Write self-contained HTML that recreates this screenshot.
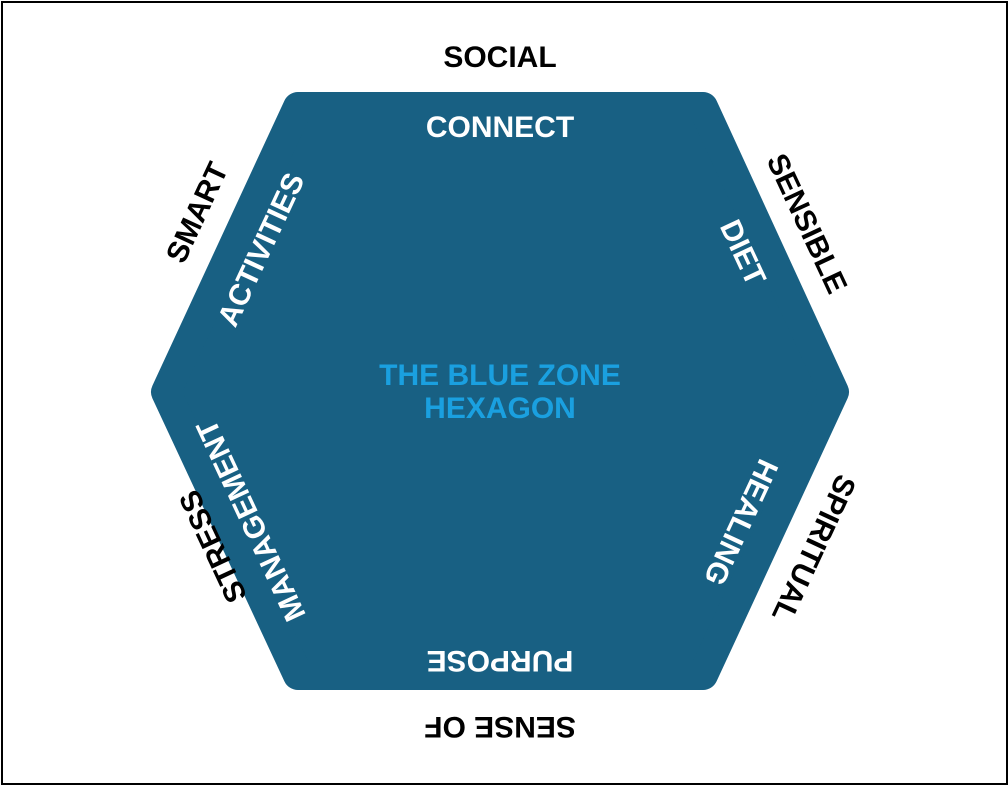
<!DOCTYPE html>
<html><head><style>
html,body{margin:0;padding:0;background:#fff;}
body{width:1008px;height:785px;position:relative;overflow:hidden;font-family:"Liberation Sans",Arial,sans-serif;}
.frame{position:absolute;left:1px;top:1px;width:1003px;height:780px;border:2px solid #000;}
.t{position:absolute;font-weight:bold;font-size:30px;letter-spacing:0;white-space:nowrap;transform-origin:center center;line-height:1;}
.w{color:#fff;}
.k{color:#000;}
</style></head><body>
<div class="frame"></div>
<svg width="1008" height="785" style="position:absolute;left:0;top:0">
<polygon points="298,107 703,107 834,392 703,675 298,675 166,392" fill="#186083" stroke="#186083" stroke-width="30" stroke-linejoin="round"/>
</svg>
<div class="t k" style="left:500px;top:58px;transform:translate(-50%,-50%)">SOCIAL</div>
<div class="t w" style="left:500px;top:128px;transform:translate(-50%,-50%)">CONNECT</div>
<div class="t" style="left:500px;top:376px;transform:translate(-50%,-50%);color:#1aa0e0">THE BLUE ZONE</div>
<div class="t" style="left:500px;top:409px;transform:translate(-50%,-50%);color:#1aa0e0">HEXAGON</div>
<div class="t k" style="left:198px;top:213px;transform:translate(-50%,-50%) rotate(-65deg)">SMART</div>
<div class="t w" style="left:262px;top:250px;transform:translate(-50%,-50%) rotate(-65deg)">ACTIVITIES</div>
<div class="t w" style="left:742px;top:253px;transform:translate(-50%,-50%) rotate(65deg)">DIET</div>
<div class="t k" style="left:806px;top:224px;transform:translate(-50%,-50%) rotate(65deg)">SENSIBLE</div>
<div class="t w" style="left:740px;top:522px;transform:translate(-50%,-50%) rotate(115deg)">HEALING</div>
<div class="t k" style="left:813px;top:548px;transform:translate(-50%,-50%) rotate(115deg)">SPIRITUAL</div>
<div class="t w" style="left:252px;top:520px;transform:translate(-50%,-50%) rotate(-115deg)">MANAGEMENT</div>
<div class="t k" style="left:214px;top:546px;transform:translate(-50%,-50%) rotate(-115deg)">STRESS</div>
<div class="t w" style="left:500px;top:660px;transform:translate(-50%,-50%) rotate(180deg)">PURPOSE</div>
<div class="t k" style="left:500px;top:726px;transform:translate(-50%,-50%) rotate(180deg)">SENSE OF</div>
</body></html>
